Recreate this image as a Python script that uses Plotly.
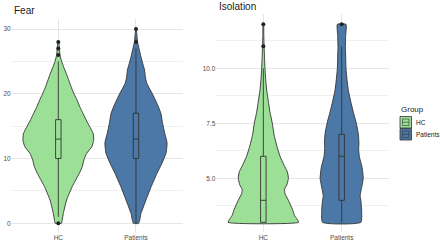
import plotly.graph_objects as go

# ---------------- data ----------------
groups = ["HC", "Patients"]
group_colors = ["#9be096", "#4b78a6"]

# Fear: density profile (value levels, half-widths in category units)
fear_hc_y = [0, 0.5, 1.5, 3.6, 5.7, 7.7, 8.8, 9.8, 10.8, 11.8, 12.8, 13.8, 14.8, 15.8, 16.9, 17.9,
             18.9, 19.9, 20.9, 22, 23, 24, 25, 26, 27.2, 28]
fear_hc_w = [0.04, 0.05, 0.064, 0.107, 0.18, 0.27, 0.31, 0.33, 0.365, 0.43, 0.455, 0.45, 0.41, 0.365,
             0.32, 0.28, 0.245, 0.206, 0.17, 0.137, 0.107, 0.073, 0.043, 0.021, 0.013, 0.005]
fear_pt_y = [0, 1.5, 3.6, 5.7, 7.7, 9.3, 10.8, 12.4, 13.9, 15.4, 17, 18.5, 20.1, 21.6, 22.6, 23.7,
             24.7, 25.7, 26.8, 28, 29.3, 30]
fear_pt_w = [0.034, 0.064, 0.129, 0.197, 0.27, 0.335, 0.386, 0.40, 0.37, 0.343, 0.32, 0.27, 0.206,
             0.14, 0.12, 0.11, 0.086, 0.064, 0.043, 0.02, 0.01, 0.004]

# Isolation: density profile
iso_hc_y = [3, 3.15, 3.3, 3.6, 4, 4.3, 4.5, 4.7, 5, 5.3, 5.6, 6, 6.5, 7, 7.5, 8, 8.5, 9, 9.5, 10,
            10.5, 11, 11.5, 12]
iso_hc_w = [0.45, 0.43, 0.40, 0.37, 0.32, 0.277, 0.27, 0.30, 0.32, 0.306, 0.264, 0.213, 0.17, 0.136,
            0.115, 0.085, 0.064, 0.043, 0.03, 0.021, 0.015, 0.01, 0.006, 0.003]
iso_pt_y = [3, 3.5, 4, 4.2, 4.5, 5, 5.5, 6, 6.3, 6.6, 7, 7.5, 8, 8.5, 9, 9.5, 10, 10.5, 11, 11.5, 12]
iso_pt_w = [0.245, 0.255, 0.245, 0.235, 0.25, 0.275, 0.26, 0.225, 0.217, 0.22, 0.213, 0.187, 0.149,
            0.115, 0.085, 0.068, 0.055, 0.051, 0.047, 0.051, 0.055]

# Box-plot statistics [HC, Patients]
fear_q1 = [10, 10]
fear_median = [13, 13]
fear_q3 = [16, 17]
fear_lower = [1, 0]
fear_upper = [25, 27]
fear_outliers = [[0, 26, 27, 28], [28, 30]]

iso_q1 = [3, 4]
iso_median = [4, 6]
iso_q3 = [6, 7]
iso_lower = [3, 3]
iso_upper = [10, 11]
iso_outliers = [[11, 12], [12]]

fear_ticks = [0, 10, 20, 30]
iso_ticks = [5.0, 7.5, 10.0]
iso_ticklabels = ["5.0", "7.5", "10.0"]

# ---------------- figure ----------------
fig = go.Figure()
OUT = "#333333"
TICK = "#4d4d4d"
FONT = "Liberation Sans, Arial, sans-serif"


def add_violin(pos, ys, ws, color, xa, ya):
    xs = [pos - w for w in ws] + [pos + w for w in reversed(ws)] + [pos - ws[0]]
    yy = list(ys) + list(reversed(ys)) + [ys[0]]
    fig.add_trace(go.Scatter(x=xs, y=yy, mode="lines", fill="toself", fillcolor=color,
                             line=dict(color=OUT, width=0.9, shape="spline", smoothing=0.5),
                             hoverinfo="skip", showlegend=False, xaxis=xa, yaxis=ya))


def add_box(pos, q1, med, q3, lo, hi, color, xa, ya):
    fig.add_trace(go.Box(x=[pos], q1=[q1], median=[med], q3=[q3], lowerfence=[lo], upperfence=[hi],
                         orientation="v", width=0.07, fillcolor=color,
                         line=dict(color=OUT, width=0.9),
                         whiskerwidth=0, boxpoints=False, showlegend=False, xaxis=xa, yaxis=ya))


def add_outliers(pos, vals, xa, ya):
    fig.add_trace(go.Scatter(x=[pos] * len(vals), y=vals, mode="markers",
                             marker=dict(color="#222222", size=4), showlegend=False,
                             xaxis=xa, yaxis=ya))


fear_profiles = [(fear_hc_y, fear_hc_w), (fear_pt_y, fear_pt_w)]
iso_profiles = [(iso_hc_y, iso_hc_w), (iso_pt_y, iso_pt_w)]

for i in range(2):
    add_violin(i, *fear_profiles[i], group_colors[i], "x", "y")
    add_violin(i, *iso_profiles[i], group_colors[i], "x2", "y2")
for i in range(2):
    # boxes and outliers on overlay axes so they are drawn above the violins
    add_box(i, fear_q1[i], fear_median[i], fear_q3[i], fear_lower[i], fear_upper[i],
            group_colors[i], "x3", "y3")
    add_outliers(i, fear_outliers[i], "x3", "y3")
    add_box(i, iso_q1[i], iso_median[i], iso_q3[i], iso_lower[i], iso_upper[i],
            group_colors[i], "x4", "y4")
    add_outliers(i, iso_outliers[i], "x4", "y4")

GRID = "#e6e6e6"
MINOR = "#f0f0f0"
xcommon = dict(range=[-0.6, 1.6], tickvals=[0, 1], ticktext=groups, showgrid=True,
               gridcolor=GRID, gridwidth=0.8, zeroline=False, showline=False, ticks="",
               tickfont=dict(size=6.5, color=TICK, family=FONT))
hidden = dict(visible=False, showgrid=False, zeroline=False)

fig.update_layout(
    width=440, height=243,
    margin=dict(l=0, r=0, t=0, b=0),
    paper_bgcolor="white", plot_bgcolor="white",
    boxmode="overlay",
    font=dict(family=FONT),
    xaxis=dict(domain=[0.0266, 0.415], anchor="y", **xcommon),
    yaxis=dict(domain=[0.0412, 0.9206], anchor="x", range=[-1.5, 31.5], tickvals=fear_ticks,
               showgrid=True, gridcolor=GRID, gridwidth=0.8, zeroline=False, ticks="",
               tickfont=dict(size=6.5, color=TICK, family=FONT),
               minor=dict(tickvals=[5, 15, 25], showgrid=True, gridcolor=MINOR, gridwidth=0.6)),
    xaxis2=dict(domain=[0.4916, 0.8834], anchor="y2", **xcommon),
    yaxis2=dict(domain=[0.0444, 0.9407], anchor="x2", range=[2.55, 12.45], tickvals=iso_ticks,
                ticktext=iso_ticklabels, showgrid=True, gridcolor=GRID, gridwidth=0.8,
                zeroline=False, ticks="", tickfont=dict(size=6.5, color=TICK, family=FONT),
                minor=dict(tickvals=[3.75, 6.25, 8.75, 11.25], showgrid=True, gridcolor=MINOR,
                           gridwidth=0.6)),
    xaxis3=dict(overlaying="x", anchor="y3", range=[-0.6, 1.6], **hidden),
    yaxis3=dict(overlaying="y", anchor="x3", range=[-1.5, 31.5], **hidden),
    xaxis4=dict(overlaying="x2", anchor="y4", range=[-0.6, 1.6], **hidden),
    yaxis4=dict(overlaying="y2", anchor="x4", range=[2.55, 12.45], **hidden),
)

# panel titles
fig.add_annotation(text="Fear", xref="paper", yref="paper", x=0.0266, y=0.956, xanchor="left",
                   yanchor="middle", showarrow=False, font=dict(size=10, color="#1a1a1a", family=FONT))
fig.add_annotation(text="Isolation", xref="paper", yref="paper", x=0.4925, y=0.975, xanchor="left",
                   yanchor="middle", showarrow=False, font=dict(size=10, color="#1a1a1a", family=FONT))

# manual legend
W, H = 440.0, 243.0
fig.add_annotation(text="Group", xref="paper", yref="paper", x=399 / W, y=1 - 109 / H,
                   xanchor="left", yanchor="middle", showarrow=False,
                   font=dict(size=8, color="#1a1a1a", family=FONT))
key_tops = [116.5, 128.5]
for i, g in enumerate(groups):
    t = key_tops[i]
    b = t + 11.5
    fig.add_shape(type="rect", xref="paper", yref="paper", x0=400 / W, x1=411.5 / W,
                  y0=1 - b / H, y1=1 - t / H, fillcolor=group_colors[i],
                  line=dict(color=OUT, width=0.8))
    fig.add_shape(type="rect", xref="paper", yref="paper", x0=402.5 / W, x1=409 / W,
                  y0=1 - (b - 2.5) / H, y1=1 - (t + 2.5) / H, fillcolor=group_colors[i],
                  line=dict(color=OUT, width=0.6))
    fig.add_shape(type="line", xref="paper", yref="paper", x0=402.5 / W, x1=409 / W,
                  y0=1 - (t + b) / 2 / H, y1=1 - (t + b) / 2 / H, line=dict(color=OUT, width=0.6))
    fig.add_annotation(text=g, xref="paper", yref="paper", x=414 / W, y=1 - (t + b) / 2 / H,
                       xanchor="left", yanchor="middle", showarrow=False,
                       font=dict(size=6.5, color="#1a1a1a", family=FONT))

fig.write_html("out.html", config={"displayModeBar": False},
               post_script="document.body.style.margin='0px';document.body.style.overflow='hidden';")
